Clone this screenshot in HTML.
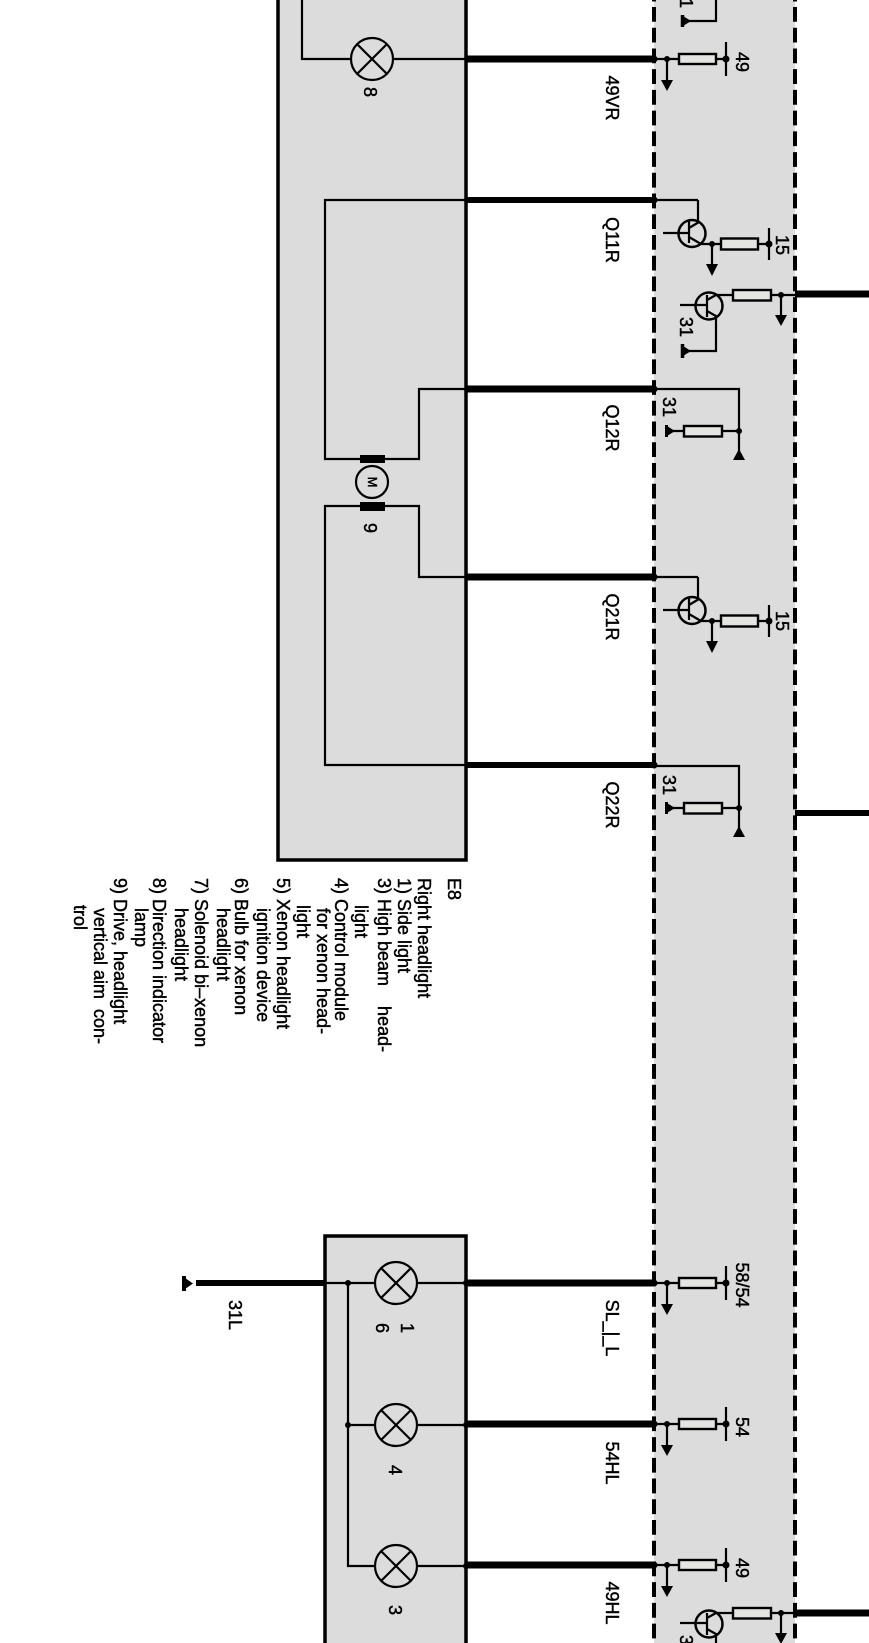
<!DOCTYPE html>
<html>
<head>
<meta charset="utf-8">
<style>
html,body{margin:0;padding:0;background:#fff;}
svg{display:block;}
text{font-family:"Liberation Sans",sans-serif;font-size:18px;fill:#000;stroke:#000;stroke-width:.45px;}
.w{stroke:#000;stroke-width:2.2;fill:none;}
</style>
</head>
<body>
<svg width="869" height="1643" viewBox="0 0 869 1643" xmlns="http://www.w3.org/2000/svg">
<defs>
<g id="lamp">
<circle r="21" fill="#dcdcdc" stroke="#000" stroke-width="2.2"/>
<path d="M-15,-15L15,15M-15,15L15,-15" class="w"/>
</g>
<g id="res">
<path d="M654,0H679M716,0H726M667,0V22M726,-17V17" class="w"/>
<circle cx="667" cy="0" r="3"/><circle cx="726" cy="0" r="3.5"/><circle cx="654" cy="0" r="3.5"/>
<polygon points="661,21 673,21 667,32"/>
<rect x="679" y="-5" width="37" height="10" fill="#e4e4e0" stroke="#000" stroke-width="2.4"/>
</g>
<g id="t1">
<path d="M698,0V22M663,33H689M689,21V43M689,28L699,22M689,37L701,44H712M712,44V67M721,44H712M758,44H769M769,28V60" class="w"/>
<circle cx="692" cy="33.5" r="13.5" fill="none" stroke="#000" stroke-width="2.5"/>
<circle cx="712" cy="44" r="3"/><circle cx="769" cy="44" r="3.5"/>
<polygon points="706,64 718,64 712,76"/>
<rect x="721" y="38.5" width="37" height="11" fill="#e4e4e0" stroke="#000" stroke-width="2.4"/>
</g>
<g id="t2">
<circle cx="709" cy="11" r="13.5" fill="none" stroke="#000" stroke-width="2.5"/>
<path d="M680,10H707M707,0V22M707,5L716,0H733M707,16L716,21V56H684M771,0H795M781,0V22" class="w"/>
<rect x="733" y="-5" width="38" height="10.5" fill="#e4e4e0" stroke="#000" stroke-width="2.4"/>
<circle cx="781" cy="0" r="3"/>
<polygon points="775,20 787,20 781,31"/>
<path d="M682.5,49V63" stroke="#000" stroke-width="3.5"/>
<polygon points="683,51 691,56 683,61"/>
</g>
<g id="t3">
<path d="M654,0H739V71M667,42H684M722,42H739" class="w"/>
<rect x="684" y="37" width="38" height="10.5" fill="#e4e4e0" stroke="#000" stroke-width="2.4"/>
<circle cx="739" cy="42" r="3"/>
<polygon points="733,71 745,71 739,60"/>
<path d="M666.5,36V48" stroke="#000" stroke-width="3"/>
<polygon points="667,37 675,42 667,47"/>
</g>
</defs>

<!-- boxes -->
<rect x="654" y="-5" width="141" height="1660" fill="#dcdcdc"/>
<rect x="278" y="-10" width="188" height="870" fill="#dcdcdc" stroke="#000" stroke-width="3.5"/>
<rect x="325" y="1236" width="141" height="430" fill="#dcdcdc" stroke="#000" stroke-width="3.5"/>
<path d="M654,7V1643M795,7V1643M654,0V1.5M795,0V1.5" stroke="#000" stroke-width="4" stroke-dasharray="14.8 5.926" fill="none"/>

<!-- thick wires -->
<g stroke="#000" fill="none">
<path d="M466,59H655" stroke-width="7"/>
<path d="M466,200H655" stroke-width="6"/>
<path d="M466,389H655" stroke-width="7"/>
<path d="M466,577H655" stroke-width="7"/>
<path d="M466,765H655" stroke-width="6"/>
<path d="M466,1283H655" stroke-width="7"/>
<path d="M466,1424H655" stroke-width="7"/>
<path d="M466,1565H655" stroke-width="7"/>
<path d="M795,294H869" stroke-width="7"/>
<path d="M795,813H869" stroke-width="6"/>
<path d="M795,1613H869" stroke-width="7"/>
<path d="M196,1283H325" stroke-width="6"/>
</g>
<rect x="182" y="1276" width="4" height="15"/>
<polygon points="185,1278 193,1283.5 185,1289"/>

<!-- left box wiring -->
<path d="M302,0V59H466" class="w"/>
<use href="#lamp" x="372" y="59"/>
<path d="M466,200H325V459H419V389H466" class="w"/>
<path d="M466,577H419V506H325V765H466" class="w"/>
<rect x="360" y="455" width="25" height="8"/>
<rect x="360" y="502" width="25" height="9"/>
<circle cx="372" cy="482" r="16" fill="#dcdcdc" stroke="#000" stroke-width="2.2"/>

<!-- bottom box wiring -->
<path d="M325,1283H466M348,1283V1566H466M348,1425H466" class="w"/>
<circle cx="348" cy="1283" r="3"/><circle cx="348" cy="1425" r="3"/>
<circle cx="466" cy="1283" r="3"/><circle cx="466" cy="1425" r="3"/><circle cx="466" cy="1566" r="3"/>
<use href="#lamp" x="396" y="1283"/>
<use href="#lamp" x="396" y="1425"/>
<use href="#lamp" x="396" y="1566"/>

<!-- band components -->
<path d="M716,0V21H683" class="w"/>
<path d="M682.5,15V27" stroke="#000" stroke-width="3.5"/>
<polygon points="683,16 691,21 683,26"/>
<use href="#res" y="59"/>
<path d="M654,200H698" class="w"/>
<circle cx="654" cy="200" r="3.5"/>
<use href="#t1" y="200"/>
<use href="#t2" y="295"/>
<circle cx="654" cy="389" r="3.5"/>
<use href="#t3" y="389"/>
<path d="M654,577H698" class="w"/>
<circle cx="654" cy="577" r="3.5"/>
<use href="#t1" y="577"/>
<circle cx="654" cy="765" r="3.5"/>
<use href="#t3" y="766"/>
<use href="#res" y="1283"/>
<use href="#res" y="1424"/>
<use href="#res" y="1565"/>
<use href="#t2" y="1613"/>

<!-- wire labels -->
<g text-anchor="middle">
<text transform="translate(606,98) rotate(90)">49VR</text>
<text transform="translate(606,240) rotate(90)">Q11R</text>
<text transform="translate(606,428) rotate(90)">Q12R</text>
<text transform="translate(606,617) rotate(90)">Q21R</text>
<text transform="translate(606,805) rotate(90)">Q22R</text>
<text transform="translate(606,1328) rotate(90)">SL_|_L</text>
<text transform="translate(606,1463) rotate(90)">54HL</text>
<text transform="translate(606,1603) rotate(90)">49HL</text>
<text transform="translate(229,1315) rotate(90)">31L</text>
<text transform="translate(736,62) rotate(90)">49</text>
<text transform="translate(776,245) rotate(90)">15</text>
<text transform="translate(776,621) rotate(90)">15</text>
<text transform="translate(736,1285) rotate(90)">58/54</text>
<text transform="translate(736,1427) rotate(90)">54</text>
<text transform="translate(736,1568) rotate(90)">49</text>
<text transform="translate(680,3) rotate(90)">1</text>
<text transform="translate(680,327) rotate(90)">31</text>
<text transform="translate(663,407) rotate(90)">31</text>
<text transform="translate(663,785) rotate(90)">31</text>
<text transform="translate(680,1645) rotate(90)">31</text>
<text transform="translate(364,92) rotate(90)">8</text>
<text transform="translate(364,528) rotate(90)">9</text>
<text transform="translate(401,1328) rotate(90)">1</text>
<text transform="translate(376,1328) rotate(90)">6</text>
<text transform="translate(389,1470) rotate(90)">4</text>
<text transform="translate(389,1610) rotate(90)">3</text>
<text transform="translate(368,482) rotate(90)" style="font-size:13px">M</text>
</g>

<!-- legend -->
<g>
<text transform="translate(448,878) rotate(90)">E8</text>
<text transform="translate(418,878) rotate(90)">Right headlight</text>
<text transform="translate(398,878) rotate(90)">1) Side light</text>
<text transform="translate(378,878) rotate(90)">3) High beam &#160;&#160;&#160;head-</text>
<text transform="translate(355,905) rotate(90)">light</text>
<text transform="translate(335,878) rotate(90)">4) Control module</text>
<text transform="translate(317,908) rotate(90)">for xenon head-</text>
<text transform="translate(297,905) rotate(90)">light</text>
<text transform="translate(277,878) rotate(90)">5) Xenon headlight</text>
<text transform="translate(257,908) rotate(90)">ignition device</text>
<text transform="translate(235,878) rotate(90)">6) Bulb for xenon</text>
<text transform="translate(217,908) rotate(90)">headlight</text>
<text transform="translate(195,878) rotate(90)">7) Solenoid bi&#8211;xenon</text>
<text transform="translate(175,908) rotate(90)">headlight</text>
<text transform="translate(153,878) rotate(90)">8) Direction indicator</text>
<text transform="translate(135,908) rotate(90)">lamp</text>
<text transform="translate(114,878) rotate(90)">9) Drive, headlight</text>
<text transform="translate(94,908) rotate(90)">vertical aim &#160;con-</text>
<text transform="translate(74,905) rotate(90)">trol</text>
</g>
</svg>
</body>
</html>
